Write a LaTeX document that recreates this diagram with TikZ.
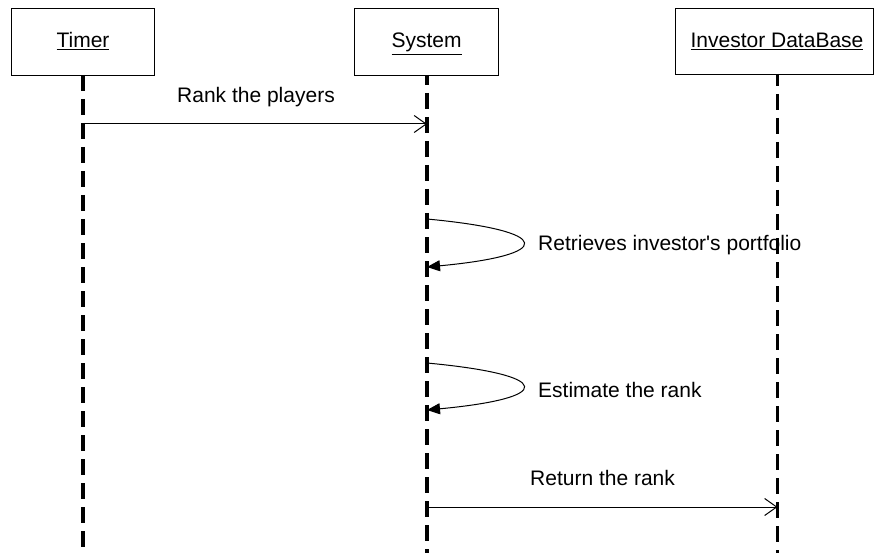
\documentclass[tikz,border=0pt]{standalone}
\usepackage{fontspec}
\setmainfont{Liberation Sans}[Ligatures=TeXOff]
\usetikzlibrary{arrows.meta}
\begin{document}
\begin{tikzpicture}[x=1pt,y=-1pt,
  every node/.style={font=\fontsize{21}{25}\selectfont},
  objbox/.style={draw,line width=1.3pt,inner sep=0pt,anchor=north west},
  lifeline/.style={line width=3.2pt,dash pattern=on 16pt off 8pt},
  msg/.style={line width=1pt,-{Straight Barb[length=12pt,width=17pt,line width=1pt]}},
  selfmsg/.style={line width=1pt,-{Triangle[length=13pt,width=11pt]}},
  lbl/.style={anchor=base west,inner sep=0pt}]
\useasboundingbox (0,0) rectangle (874,553);
% participant boxes
\node[objbox,minimum width=143pt,minimum height=67pt] (timer) at (11,8) {};
\node[objbox,minimum width=144pt,minimum height=67pt] (sys) at (354,8) {};
\node[objbox,minimum width=198pt,minimum height=66pt] (db) at (675,8) {};
\node[anchor=base,inner sep=0pt] (timerT) at (83,48) {\underline{Timer}};
\node[anchor=base,inner sep=0pt] (sysT) at (426.5,48) {\underline{System}};
\node[anchor=base,inner sep=0pt] (dbT) at (777,48) {\underline{Investor DataBase}};
% lifelines
\coordinate (timerTop) at (83,75);
\coordinate (sysTop) at (427,75);
\coordinate (dbTop) at (777.5,74);
\coordinate (timerEnd) at (83,553);
\coordinate (sysEnd) at (427,553);
\coordinate (dbEnd) at (777.5,553);
\draw[lifeline] (timerTop) -- (timerEnd);
\draw[lifeline,dash phase=6pt] (sysTop) -- (sysEnd);
\draw[lifeline,dash phase=4pt] (dbTop) -- (dbEnd);
% messages
\coordinate (m1a) at (83,124);
\coordinate (m1b) at (427,124);
\draw[msg] (m1a) -- (m1b);
\node[anchor=base,inner sep=0pt] (m1l) at (256,103) {Rank the players};
\coordinate (s1a) at (427,219);
\coordinate (s1b) at (427,267);
\draw[selfmsg] (s1a) .. controls (555,231) and (555,255) .. (s1b);
\node[lbl] (s1l) at (538,250) {Retrieves investor's portfolio};
\coordinate (s2a) at (427,363);
\coordinate (s2b) at (427,410);
\draw[selfmsg] (s2a) .. controls (555,375) and (555,398) .. (s2b);
\node[lbl] (s2l) at (538,397) {Estimate the rank};
\coordinate (m2a) at (427,507);
\coordinate (m2b) at (777.5,507);
\draw[msg] (m2a) -- (m2b);
\node[lbl] (m2l) at (530,485) {Return the rank};
\end{tikzpicture}
\end{document}
